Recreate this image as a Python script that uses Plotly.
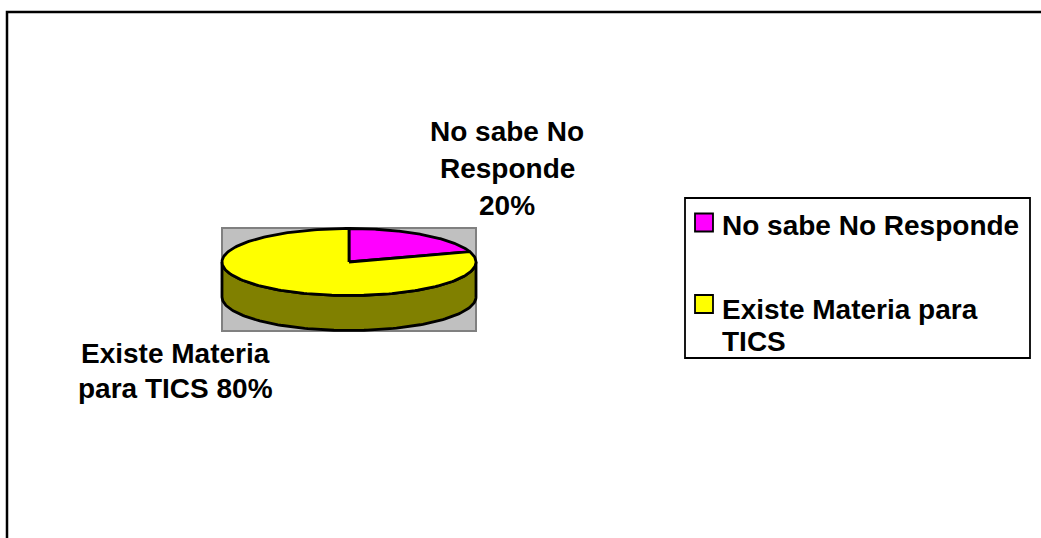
import numpy as np
import plotly.graph_objects as go

# Survey answers and their counts (shares of 100)
categories = ["No sabe No Responde", "Existe Materia para TICS"]
values = [20, 80]
# Wrapped label lines drawn next to the pie (the percentage is appended)
label_lines = [["No sabe No", "Responde"], ["Existe Materia", "para TICS"]]
legend_lines = [["No sabe No Responde"], ["Existe Materia para", "TICS"]]

top_colors = ["#FF00FF", "#FFFF00"]
side_colors = ["#800080", "#808000"]

FONT = "Liberation Sans, Arial, sans-serif"
FS = 28

# Pie geometry in pixel-like axis units
cx, cy = 349.0, 262.0
rx, ry = 127.0, 33.5
depth = 35.0

fig = go.Figure()

total = float(sum(values))
fracs = [v / total for v in values]
cum = np.concatenate([[0.0], np.cumsum(fracs)])
# Excel-style: start at 12 o'clock, run clockwise
starts = 90.0 - 360.0 * cum[:-1]
ends = 90.0 - 360.0 * cum[1:]


def ell(theta_deg, dy=0.0):
    t = np.radians(theta_deg)
    return cx + rx * np.cos(t), cy - ry * np.sin(t) + dy


# Side walls (front half only, angles between -180 and 0)
for i in range(len(values)):
    a0 = max(ends[i], -180.0)
    a1 = min(starts[i], 0.0)
    if a1 <= a0:
        continue
    th = np.linspace(a1, a0, 120)
    xt, yt = ell(th)
    xb, yb = ell(th[::-1], depth)
    xs = np.concatenate([xt, xb, xt[:1]])
    ys = np.concatenate([yt, yb, yt[:1]])
    fig.add_trace(go.Scatter(x=xs, y=ys, mode="lines", fill="toself",
                             fillcolor=side_colors[i],
                             line=dict(color="black", width=2.8),
                             hoverinfo="skip", showlegend=False))

# Top faces
for i in range(len(values)):
    th = np.linspace(starts[i], ends[i], 200)
    xa, ya = ell(th)
    xs = np.concatenate([[cx], xa, [cx]])
    ys = np.concatenate([[cy], ya, [cy]])
    fig.add_trace(go.Scatter(x=xs, y=ys, mode="lines", fill="toself",
                             fillcolor=top_colors[i],
                             line=dict(color="black", width=2.8),
                             name=categories[i], hoverinfo="skip",
                             showlegend=False))

shapes = [
    # outer chart frame
    dict(type="rect", xref="x", yref="y", x0=7, y0=12, x1=1050, y1=550,
         line=dict(color="black", width=2.5), layer="below"),
    # plot area behind the pie
    dict(type="rect", xref="x", yref="y", x0=222, y0=228, x1=476, y1=331,
         fillcolor="#C0C0C0", line=dict(color="#808080", width=2), layer="below"),
    # legend box
    dict(type="rect", xref="x", yref="y", x0=685, y0=198, x1=1030, y1=358,
         fillcolor="white", line=dict(color="black", width=1.8), layer="below"),
]

annotations = []

# Data labels
label_pos = [(507, [131, 168, 205]), (175, [353, 388])]
for i in range(len(values)):
    pct = f"{round(fracs[i] * 100):.0f}%"
    lines = list(label_lines[i])
    if i == 1:
        lines[-1] = lines[-1] + " " + pct
    else:
        lines = lines + [pct]
    xc, ys = label_pos[i]
    for line, yy in zip(lines, ys):
        annotations.append(dict(x=xc, y=yy, xref="x", yref="y", text=f"<b>{line}</b>",
                                showarrow=False, xanchor="center", yanchor="middle",
                                font=dict(family=FONT, size=FS, color="black")))

# Legend entries
legend_rows = [(222.5, [225]), (304, [309, 341])]
for i in range(len(values)):
    ysq, ys = legend_rows[i]
    shapes.append(dict(type="rect", xref="x", yref="y", x0=695, x1=713,
                       y0=ysq - 9, y1=ysq + 9, fillcolor=top_colors[i],
                       line=dict(color="black", width=1.8)))
    for line, yy in zip(legend_lines[i], ys):
        annotations.append(dict(x=720, y=yy, xref="x", yref="y", text=f"<b>{line}</b>",
                                showarrow=False, xanchor="left", yanchor="middle",
                                font=dict(family=FONT, size=FS, color="black")))

fig.update_layout(
    width=1041, height=538,
    margin=dict(l=0, r=0, t=0, b=0),
    paper_bgcolor="white", plot_bgcolor="white",
    xaxis=dict(range=[0, 1041], visible=False, fixedrange=True),
    yaxis=dict(range=[538, 0], visible=False, fixedrange=True),
    shapes=shapes, annotations=annotations, showlegend=False,
)

fig.write_html("out.html")
